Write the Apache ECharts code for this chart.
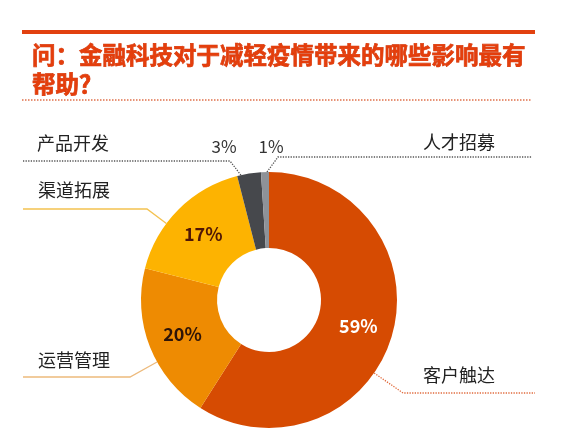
<!DOCTYPE html>
<html><head><meta charset="utf-8">
<script src="https://cdn.jsdelivr.net/npm/echarts@6/dist/echarts.min.js"></script>
<style>html,body{margin:0;padding:0;background:#fff}#c{width:580px;height:442px}</style>
</head><body><div id="c"></div>
<script>
// ---- data ----
const categories = ['客户触达', '运营管理', '渠道拓展', '产品开发', '人才招募'];
const shares = [59, 20, 17, 3, 1];
const titleText = '问：金融科技对于减轻疫情带来的哪些影响最有\n帮助？';

// ---- styles / layout (not data) ----
const FONT = '"Noto Sans CJK SC", "Noto Sans", sans-serif';
const sliceColors = ['#D64B02', '#EE8B02', '#FDB301', '#46484C', '#8E9298'];
const pctColors = ['#FFFFFF', '#2E1408', '#4E1606', '#333333', '#333333'];
const CX = 269, CY = 300, R0 = 52, R1 = 128;
const pctLayout = {3: [224, 147], 4: [271, 147]};
const leaderLayout = [
  {text: [459, 375], bend: [403, 393], end: [535, 393], color: '#E06A3C', type: 'dotted'},
  {text: [74, 360], bend: [130, 377], end: [23, 377], color: '#EDBA7C', type: 'solid'},
  {text: [74, 190], bend: [147, 209], end: [23, 209], color: '#F4C250', type: 'solid'},
  {text: [73, 143], bend: [230, 161], end: [23, 161], color: '#555555', type: 'dotted'},
  {text: [459, 142], bend: [278, 157], end: [532, 157], color: '#555555', type: 'dotted'}
];

const chart = echarts.init(document.getElementById('c'), null, {renderer: 'canvas'});

// point on a slice's outer arc closest (in angle) to the bend point, from the library's own layout
function anchorPoint(seriesIndex, idx, bend, fallback) {
  try {
    const lay = chart.getModel().getSeriesByIndex(seriesIndex).getData().getItemLayout(idx);
    let lo = Math.min(lay.startAngle, lay.endAngle), hi = Math.max(lay.startAngle, lay.endAngle);
    const pad = Math.min(0.03, (hi - lo) / 4);
    lo += pad; hi -= pad;
    const TWO = Math.PI * 2;
    let phi = Math.atan2(bend[1] - lay.cy, bend[0] - lay.cx);
    while (phi < lo) phi += TWO;
    while (phi >= lo + TWO) phi -= TWO;
    if (phi > hi) phi = (phi - hi) < (lo + TWO - phi) ? hi : lo;
    return [lay.cx + lay.r * Math.cos(phi), lay.cy + lay.r * Math.sin(phi)];
  } catch (e) { return fallback; }
}

const option = {
  backgroundColor: '#ffffff',
  animation: false,
  title: {
    text: titleText, left: 27, top: 36,
    textStyle: {fontFamily: FONT, fontSize: 23.5, fontWeight: 'bold', color: '#E43E0C', lineHeight: 29,
      textBorderColor: '#D0360A', textBorderWidth: 0.7}
  },
  graphic: [
    {type: 'line', shape: {x1: 22, y1: 32, x2: 535, y2: 32}, style: {stroke: '#E2410F', lineWidth: 4}},
    {type: 'line', shape: {x1: 22, y1: 100, x2: 531, y2: 100}, style: {stroke: '#E0704A', lineWidth: 1.5, lineDash: [1.5, 1.5]}}
  ],
  series: [
    {
      type: 'pie', center: [CX, CY], radius: [R0, R1], startAngle: 90, clockwise: true,
      avoidLabelOverlap: false, silent: true, emphasis: {disabled: true},
      label: {show: true, formatter: p => p.value + '%', fontFamily: FONT, fontSize: 18, fontWeight: 'bold'},
      labelLine: {show: false},
      data: categories.map((n, i) => ({
        name: n, value: shares[i],
        itemStyle: {color: sliceColors[i]},
        label: i >= 3 ? {position: 'outside', fontWeight: 'normal', fontSize: 17, color: pctColors[i]}
                      : {position: 'inside', color: pctColors[i]},
        labelLine: {show: false}
      })),
      labelLayout: p => pctLayout[p.dataIndex]
        ? {x: pctLayout[p.dataIndex][0], y: pctLayout[p.dataIndex][1], align: 'center', verticalAlign: 'middle'}
        : {}
    },
    {
      type: 'pie', center: [CX, CY], radius: [R0, R1], startAngle: 90, clockwise: true,
      avoidLabelOverlap: false, silent: true, emphasis: {disabled: true},
      itemStyle: {color: 'rgba(0,0,0,0)'},
      label: {show: true, position: 'outside', formatter: '{b}', fontFamily: FONT, fontSize: 18, color: '#222222'},
      labelLine: {show: true, smooth: false},
      data: categories.map((n, i) => ({
        name: n, value: shares[i],
        labelLine: {lineStyle: {color: leaderLayout[i].color, type: leaderLayout[i].type, width: 1.3}}
      })),
      labelLayout: p => {
        const L = leaderLayout[p.dataIndex];
        const fb = (p.labelLinePoints && p.labelLinePoints[0]) || L.bend;
        const a = anchorPoint(1, p.dataIndex, L.bend, fb);
        return {x: L.text[0], y: L.text[1], align: 'center', verticalAlign: 'middle',
                labelLinePoints: [a, L.bend, L.end]};
      }
    }
  ]
};
chart.setOption(option);
</script>
</body></html>
